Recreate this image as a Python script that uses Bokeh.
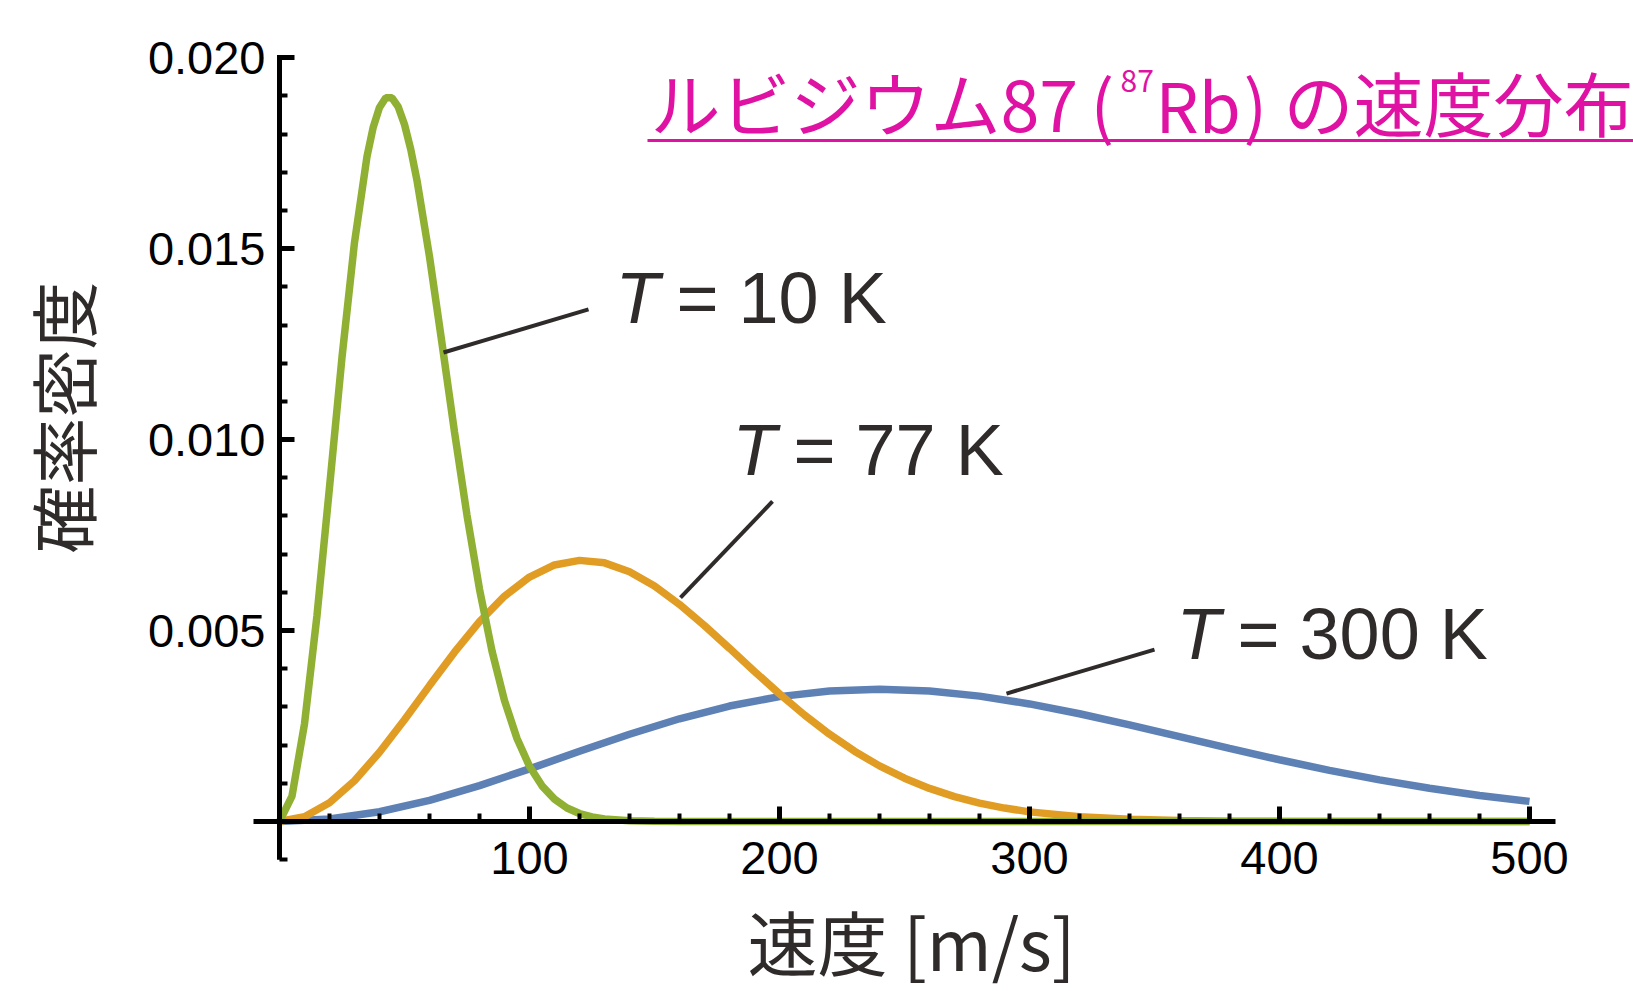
from math import pi
from bokeh.plotting import figure
from bokeh.models import FixedTicker, PrintfTickFormatter, Label, Arrow
from bokeh.embed import file_html
from bokeh.resources import INLINE

# ---- data: Maxwell speed distribution of 87Rb ----
speed_10K = [0, 5, 10, 15, 20, 25, 30, 35, 37.5, 40, 42.5, 45, 47.5, 50, 52.5, 55,
             60, 65, 70, 75, 80, 85, 90, 95, 100, 105, 110, 115, 120, 125, 130,
             140, 150, 160, 200, 300, 400, 500]
density_10K = [0, 0.000665, 0.002559, 0.005395, 0.008752, 0.012157, 0.015163, 0.017415,
               0.018185, 0.018697, 0.018950, 0.018949, 0.018710, 0.018252, 0.017600, 0.016786,
               0.014791, 0.012520, 0.010201, 0.008019, 0.006084, 0.004464, 0.003167, 0.002175,
               0.001447, 0.000934, 0.000585, 0.000355, 0.000209, 0.000120, 0.000067,
               0.000019, 0.000005, 0.000001, 0.0, 0.0, 0.0, 0.0]

speed_77K = [0, 10, 20, 30, 40, 50, 60, 70, 80, 90, 100, 110, 120, 130, 140, 150, 160,
             170, 180, 190, 200, 210, 220, 230, 240, 250, 260, 270, 280, 290, 300,
             320, 340, 360, 380, 400, 450, 500]
density_77K = [0, 0.000125, 0.000491, 0.001069, 0.001812, 0.002663, 0.003559, 0.004435,
               0.005232, 0.005899, 0.006402, 0.006717, 0.006838, 0.006773, 0.006540, 0.006166,
               0.005684, 0.005129, 0.004534, 0.003930, 0.003342, 0.002789, 0.002286, 0.001841,
               0.001457, 0.001134, 0.000867, 0.000653, 0.000483, 0.000352, 0.000252,
               0.000124, 0.000057, 0.000025, 0.000010, 0.000004, 0.0, 0.0]

speed_300K = [0, 20, 40, 60, 80, 100, 120, 140, 160, 180, 200, 220, 240, 260, 280, 300,
              320, 340, 360, 380, 400, 420, 440, 460, 480, 500]
density_300K = [0, 0.0000652, 0.000255, 0.000555, 0.000940, 0.001379, 0.001839, 0.002286,
                0.002690, 0.003024, 0.003270, 0.003418, 0.003465, 0.003417, 0.003283, 0.003079,
                0.002822, 0.002532, 0.002224, 0.001915, 0.001617, 0.001339, 0.001089, 0.000870,
                0.000683, 0.000527]

x_ticks = [100, 200, 300, 400, 500]
x_minor_ticks = [20, 40, 60, 80, 120, 140, 160, 180, 220, 240, 260, 280, 320, 340, 360, 380,
                 420, 440, 460, 480]
y_ticks = [0.005, 0.010, 0.015, 0.020]
y_minor_ticks = [-0.001, 0.001, 0.002, 0.003, 0.004, 0.006, 0.007, 0.008, 0.009, 0.011, 0.012,
                 0.013, 0.014, 0.016, 0.017, 0.018, 0.019]

# axis extents (data units)
x_axis_span = (-10.4, 510.4)
y_axis_span = (-0.001, 0.02007)

# annotation anchors (data coordinates)
labels_T = ["10", "77", "300"]
label_pos = [(134.4, 0.01372), (181.2, 0.00972), (358.8, 0.00490)]
leader_start = [(65.6, 0.01228), (160.4, 0.00586), (290.8, 0.00335)]
leader_end = [(123.6, 0.01341), (197.2, 0.00838), (350.0, 0.00450)]

BLUE, ORANGE, GREEN = "#5E81B5", "#E19C24", "#8FB032"
DARK = "#2F2B2A"
MAGENTA = "#DF12A3"
JP = "Noto Sans CJK JP"
LAT = "Liberation Sans"

p = figure(width=1633, height=991, x_range=(-111.6, 541.6), y_range=(-0.004451, 0.021498),
           output_backend="svg", toolbar_location=None,
           min_border_left=0, min_border_right=0, min_border_top=0, min_border_bottom=0)
p.outline_line_color = None
p.grid.visible = False
p.background_fill_color = "white"
p.border_fill_color = "white"

p.line(speed_300K, density_300K, line_color=BLUE, line_width=7.5)
p.line(speed_77K, density_77K, line_color=ORANGE, line_width=7.5)
p.line(speed_10K, density_10K, line_color=GREEN, line_width=7.5)

# axis lines crossing at the origin
p.segment(x0=[x_axis_span[0], 0], y0=[0, y_axis_span[0]],
          x1=[x_axis_span[1], 0], y1=[0, y_axis_span[1]],
          line_color="black", line_width=5)

for ax in (p.xaxis[0], p.yaxis[0]):
    ax.fixed_location = 0
    ax.axis_line_color = None
    ax.major_tick_in = 15
    ax.major_tick_out = 0
    ax.minor_tick_in = 8
    ax.minor_tick_out = 0
    ax.major_tick_line_width = 5
    ax.minor_tick_line_width = 4
    ax.major_tick_line_color = "black"
    ax.minor_tick_line_color = "black"
    ax.major_label_text_font = LAT
    ax.major_label_text_font_size = "47px"
    ax.major_label_text_color = "black"

p.xaxis[0].major_label_standoff = 20
p.yaxis[0].major_label_standoff = 14
p.xaxis[0].ticker = FixedTicker(ticks=x_ticks, minor_ticks=x_minor_ticks)
p.yaxis[0].ticker = FixedTicker(ticks=y_ticks, minor_ticks=y_minor_ticks)
p.yaxis[0].formatter = PrintfTickFormatter(format="%.3f")

# leader lines and temperature labels
p.segment(x0=[s[0] for s in leader_start], y0=[s[1] for s in leader_start],
          x1=[e[0] for e in leader_end], y1=[e[1] for e in leader_end],
          line_color=DARK, line_width=4)
for t, (lx, ly) in zip(labels_T, label_pos):
    p.add_layout(Label(x=lx, y=ly, text="T", text_font=LAT, text_font_style="italic",
                       text_font_size="72px", text_color=DARK, text_baseline="alphabetic"))
    p.add_layout(Label(x=lx, y=ly, x_offset=61, text="= " + t + " K", text_font=LAT,
                       text_font_size="72px", text_color=DARK, text_baseline="alphabetic"))

# title (magenta, underlined)
title_parts = [
    ("ルビジウム87", 148.4, 0.01885, "70px"),
    ("(", 324.4, 0.01885, "70px"),
    ("87", 336.4, 0.01940, "30px"),
    ("Rb", 350.4, 0.01880, "68px"),
    (")", 385.6, 0.01885, "70px"),
    ("の速度分布", 401.6, 0.01885, "70px"),
]
for txt, tx, ty, fs in title_parts:
    p.add_layout(Label(x=tx, y=ty, text=txt, text_font=JP, text_font_size=fs,
                       text_color=MAGENTA, text_baseline="alphabetic"))
p.add_layout(Arrow(x_start=147.2, y_start=0.01783, x_end=545.0, y_end=0.01783, end=None,
                   line_color=MAGENTA, line_width=3))

# axis titles
p.add_layout(Label(x=-87.2, y=0.01058, text="確率密度", angle=pi / 2, text_font=JP,
                   text_font_size="68px", text_color=DARK, text_align="center",
                   text_baseline="middle"))
p.add_layout(Label(x=187.2, y=-0.00312, text="速度 [m/s]", text_font=JP,
                   text_font_size="70px", text_color=DARK, text_baseline="alphabetic"))

open("out.html", "w").write(file_html(p, INLINE))
